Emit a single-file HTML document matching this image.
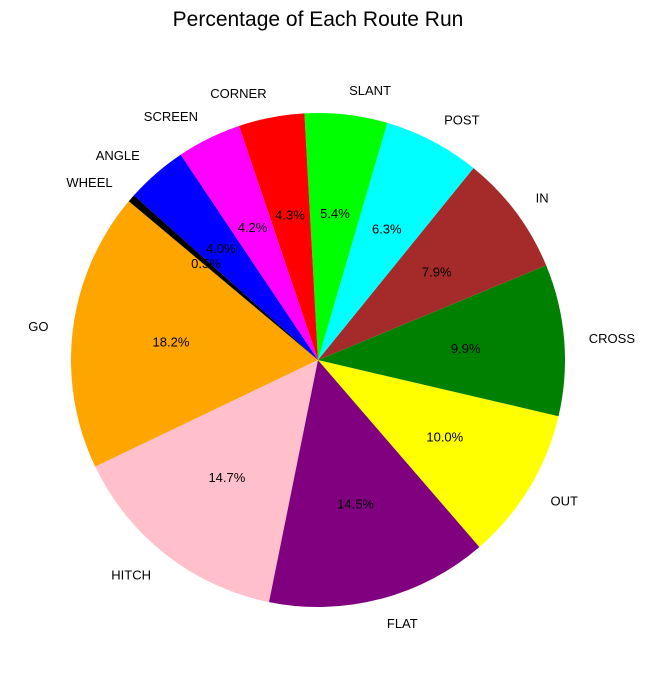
<!DOCTYPE html>
<html><head><meta charset="utf-8"><style>
html,body{margin:0;padding:0;background:#fff;}
svg text{font-family:"Liberation Sans","DejaVu Sans",sans-serif;}
</style></head><body>
<svg id="chart" width="645" height="679" xmlns="http://www.w3.org/2000/svg">
<text x="318" y="26" font-size="21" text-anchor="middle">Percentage of Each Route Run</text>
<g id="slices"></g><g id="labels"></g>
</svg>
<script>
const categories = ["GO","HITCH","FLAT","OUT","CROSS","IN","POST","SLANT","CORNER","SCREEN","ANGLE","WHEEL"];
const values = [18.2,14.7,14.5,10.0,9.9,7.9,6.3,5.4,4.3,4.2,4.0,0.5];
const colors = ["orange","pink","purple","yellow","green","#a52a2a","cyan","lime","red","magenta","blue","black"];
const cx=318, cy=360, R=247, startAngle=140;
const NS="http://www.w3.org/2000/svg";
const total=values.reduce((a,b)=>a+b,0);
const gS=document.getElementById('slices'), gL=document.getElementById('labels');
function pt(a,r){const t=a*Math.PI/180;return [cx+r*Math.cos(t), cy-r*Math.sin(t)];}
let a0=startAngle;
values.forEach((v,i)=>{
  const sweep=v/total*360, a1=a0+sweep;
  const p0=pt(a0,R), p1=pt(a1,R);
  const path=document.createElementNS(NS,'path');
  path.setAttribute('d',`M${cx},${cy} L${p0[0]},${p0[1]} A${R},${R} 0 ${sweep>180?1:0} 0 ${p1[0]},${p1[1]} Z`);
  path.setAttribute('fill',colors[i]);
  
  
  gS.appendChild(path);
  const mid=(a0+a1)/2;
  const lp=pt(mid,R*1.1);
  const c=Math.cos(mid*Math.PI/180);
  const t=document.createElementNS(NS,'text');
  t.setAttribute('x',lp[0]); t.setAttribute('y',lp[1]+5);
  t.setAttribute('font-size','13');
  t.setAttribute('text-anchor', c<0?'end':'start');
  t.textContent=categories[i];
  
  
  gL.appendChild(t);
  const pp=pt(mid,R*0.6);
  const p=document.createElementNS(NS,'text');
  p.setAttribute('x',pp[0]); p.setAttribute('y',pp[1]+5);
  p.setAttribute('font-size','13'); p.setAttribute('text-anchor','middle');
  p.textContent=v.toFixed(1)+'%';
  
  
  gL.appendChild(p);
  a0=a1;
});
</script>
</body></html>
